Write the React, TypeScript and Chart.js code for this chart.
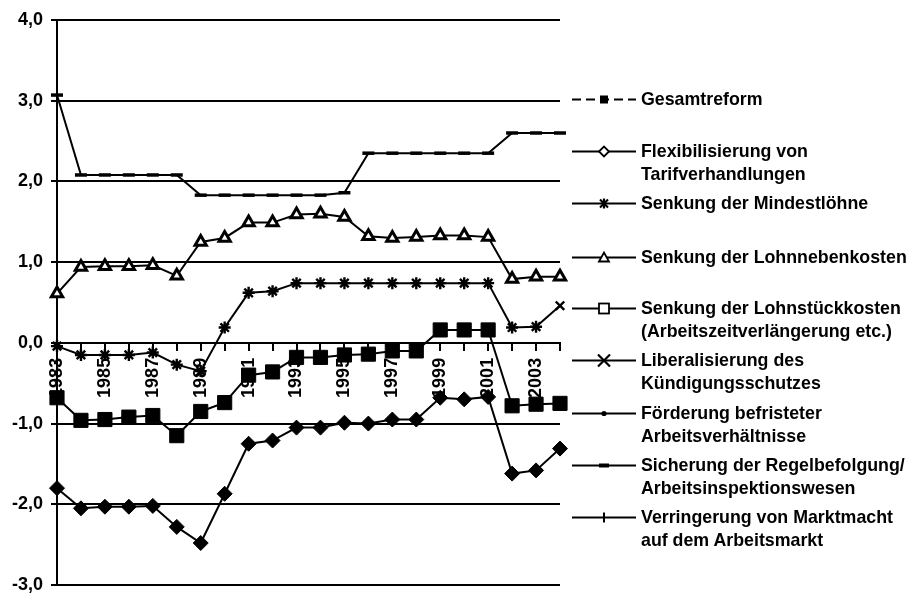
import React, { useEffect, useRef } from 'react';
import { Chart, registerables } from 'chart.js';

Chart.register(...registerables);

const years = [
  '1983', '1984', '1985', '1986', '1987', '1988', '1989', '1990', '1991', '1992', '1993',
  '1994', '1995', '1996', '1997', '1998', '1999', '2000', '2001', '2002', '2003', '2004',
];

const yMin = -3;
const yMax = 4;
const yStep = 1;

// top line with short dash markers
const regelbefolgungValues = [
  3.07, 2.08, 2.08, 2.08, 2.08, 2.08, 1.83, 1.83, 1.83, 1.83, 1.83,
  1.83, 1.86, 2.35, 2.35, 2.35, 2.35, 2.35, 2.35, 2.6, 2.6, 2.6,
];
// triangles
const lohnnebenkostenValues = [
  0.61, 0.94, 0.95, 0.95, 0.96, 0.83, 1.25, 1.3, 1.49, 1.49, 1.59,
  1.6, 1.56, 1.32, 1.3, 1.31, 1.33, 1.33, 1.31, 0.79, 0.82, 0.82,
];
// asterisks
const mindestloehneValues = [
  -0.04, -0.15, -0.15, -0.15, -0.12, -0.27, -0.35, 0.19, 0.62, 0.64, 0.74,
  0.74, 0.74, 0.74, 0.74, 0.74, 0.74, 0.74, 0.74, 0.19, 0.2, 0.46,
];
// big filled squares
const gesamtreformValues = [
  -0.68, -0.96, -0.95, -0.92, -0.9, -1.15, -0.85, -0.74, -0.4, -0.36, -0.18,
  -0.18, -0.15, -0.14, -0.1, -0.1, 0.16, 0.16, 0.16, -0.78, -0.76, -0.75,
];
// filled diamonds
const flexibilisierungValues = [
  -1.8, -2.05, -2.03, -2.03, -2.02, -2.28, -2.48, -1.87, -1.25, -1.21, -1.05,
  -1.05, -0.99, -1.0, -0.95, -0.95, -0.68, -0.7, -0.67, -1.62, -1.58, -1.31,
];

const legendLabels: string[][] = [
  ['Gesamtreform'],
  ['Flexibilisierung von', 'Tarifverhandlungen'],
  ['Senkung der Mindestlöhne'],
  ['Senkung der Lohnnebenkosten'],
  ['Senkung der Lohnstückkosten', '(Arbeitszeitverlängerung etc.)'],
  ['Liberalisierung des', 'Kündigungsschutzes'],
  ['Förderung befristeter', 'Arbeitsverhältnisse'],
  ['Sicherung der Regelbefolgung/', 'Arbeitsinspektionswesen'],
  ['Verringerung von Marktmacht', 'auf dem Arbeitsmarkt'],
];
const legendSymbols = ['dashSquare', 'diamond', 'star', 'triangle', 'square', 'cross', 'dot', 'dash', 'plus'];

const FONT = '"Liberation Sans", Arial, Helvetica, sans-serif';

function Symbol({ kind }: { kind: string }) {
  const cx = 32;
  const cy = 11.5;
  const line =
    kind === 'dashSquare' ? (
      <line x1={0} y1={cy} x2={64} y2={cy} stroke="#000" strokeWidth={2} strokeDasharray="9 5" />
    ) : (
      <line x1={0} y1={cy} x2={64} y2={cy} stroke="#000" strokeWidth={1.8} />
    );
  let marker: React.ReactNode = null;
  switch (kind) {
    case 'dashSquare':
      marker = <rect x={cx - 4} y={cy - 4} width={8} height={8} fill="#000" />;
      break;
    case 'diamond':
      marker = (
        <polygon
          points={`${cx - 5},${cy} ${cx},${cy - 5} ${cx + 5},${cy} ${cx},${cy + 5}`}
          fill="#fff"
          stroke="#000"
          strokeWidth={1.8}
        />
      );
      break;
    case 'star':
      marker = (
        <g stroke="#000" strokeWidth={2.2}>
          <line x1={cx - 4} y1={cy - 4} x2={cx + 4} y2={cy + 4} />
          <line x1={cx - 4} y1={cy + 4} x2={cx + 4} y2={cy - 4} />
          <line x1={cx} y1={cy - 5} x2={cx} y2={cy + 5} />
        </g>
      );
      break;
    case 'triangle':
      marker = (
        <polygon
          points={`${cx - 5},${cy + 4} ${cx},${cy - 5} ${cx + 5},${cy + 4}`}
          fill="#fff"
          stroke="#000"
          strokeWidth={1.8}
        />
      );
      break;
    case 'square':
      marker = <rect x={cx - 5} y={cy - 5} width={10} height={10} fill="#fff" stroke="#000" strokeWidth={1.8} />;
      break;
    case 'cross':
      marker = (
        <g stroke="#000" strokeWidth={2.2}>
          <line x1={cx - 6} y1={cy - 6} x2={cx + 6} y2={cy + 6} />
          <line x1={cx - 6} y1={cy + 6} x2={cx + 6} y2={cy - 6} />
        </g>
      );
      break;
    case 'dot':
      marker = <circle cx={cx} cy={cy} r={2.6} fill="#000" />;
      break;
    case 'dash':
      marker = <rect x={cx - 5} y={cy - 2} width={10} height={4} fill="#000" />;
      break;
    case 'plus':
      marker = <line x1={cx} y1={cy - 5} x2={cx} y2={cy + 5} stroke="#000" strokeWidth={2} />;
      break;
  }
  return (
    <svg width={64} height={23} style={{ display: 'block', flex: '0 0 auto' }}>
      {line}
      {marker}
    </svg>
  );
}

const legendTops = [99, 151, 203, 257, 308, 360, 413, 465, 517];

export default function App() {
  const canvasRef = useRef<HTMLCanvasElement | null>(null);

  useEffect(() => {
    if (!canvasRef.current) return;
    const black = '#000';
    const chart = new Chart(canvasRef.current, {
      type: 'line',
      data: {
        labels: years,
        datasets: [
          {
            label: 'Gesamtreform',
            data: gesamtreformValues,
            borderColor: black,
            borderWidth: 2,
            pointStyle: 'rect',
            pointRadius: 10,
            pointBackgroundColor: black,
            pointBorderColor: black,
            pointBorderWidth: 1,
            clip: false,
          },
          {
            label: 'Flexibilisierung von Tarifverhandlungen',
            data: flexibilisierungValues,
            borderColor: black,
            borderWidth: 2,
            pointStyle: 'rectRot',
            pointRadius: 7.5,
            pointBackgroundColor: black,
            pointBorderColor: black,
            pointBorderWidth: 1,
            clip: false,
          },
          {
            label: 'Senkung der Mindestlöhne',
            data: mindestloehneValues,
            borderColor: black,
            borderWidth: 2,
            pointStyle: mindestloehneValues.map((_, i) => (i === mindestloehneValues.length - 1 ? 'crossRot' : 'star')),
            pointRadius: 6,
            pointBackgroundColor: black,
            pointBorderColor: black,
            pointBorderWidth: 2.4,
            clip: false,
          },
          {
            label: 'Senkung der Lohnnebenkosten',
            data: lohnnebenkostenValues,
            borderColor: black,
            borderWidth: 2,
            pointStyle: 'triangle',
            pointRadius: 6.5,
            pointBackgroundColor: '#fff',
            pointBorderColor: black,
            pointBorderWidth: 3,
            clip: false,
          },
          {
            label: 'Sicherung der Regelbefolgung/Arbeitsinspektionswesen',
            data: regelbefolgungValues,
            borderColor: black,
            borderWidth: 2,
            pointStyle: 'line',
            pointRadius: 6,
            pointBorderColor: black,
            pointBorderWidth: 3.5,
            clip: false,
          },
        ],
      },
      options: {
        animation: false,
        responsive: true,
        maintainAspectRatio: false,
        layout: { padding: { left: 0, right: 354, top: 20, bottom: 7 } },
        plugins: {
          legend: { display: false },
          tooltip: { enabled: false },
        },
        elements: { line: { tension: 0 } },
        scales: {
          x: {
            type: 'category',
            position: { y: 0 } as any,
            offset: false,
            grid: {
              drawOnChartArea: false,
              drawTicks: true,
              tickLength: 7,
              color: black,
              lineWidth: 2,
            },
            border: { display: true, color: black, width: 2 },
            ticks: {
              autoSkip: false,
              maxRotation: 90,
              minRotation: 90,
              padding: 8,
              color: black,
              font: { family: FONT, size: 18, weight: 'bold' },
              callback: (_v: any, i: number) => (i % 2 === 0 ? years[i] : ''),
            },
          },
          y: {
            min: yMin,
            max: yMax,
            grid: {
              color: black,
              lineWidth: 2,
              tickLength: 6,
              drawTicks: true,
            },
            border: { display: true, color: black, width: 2 },
            ticks: {
              stepSize: yStep,
              padding: 8,
              color: black,
              font: { family: FONT, size: 18, weight: 'bold' },
              callback: (v: any) => Number(v).toFixed(1).replace('.', ','),
            },
            afterFit: (s: any) => {
              s.width = 57;
              s.paddingTop = 0;
              s.paddingBottom = 0;
            },
          },
        },
      },
    });
    return () => chart.destroy();
  }, []);

  return (
    <div style={{ position: 'absolute', left: 0, top: 0, width: 914, height: 596, background: '#fff' }}>
      <canvas ref={canvasRef} />
      {legendLabels.map((lines, i) => (
        <div
          key={i}
          style={{
            position: 'absolute',
            left: 572,
            top: legendTops[i] - 11.5,
            display: 'flex',
            alignItems: 'flex-start',
            fontFamily: FONT,
            fontWeight: 'bold',
            fontSize: 17.8,
            lineHeight: '23px',
            color: '#000',
            whiteSpace: 'nowrap',
          }}
        >
          <Symbol kind={legendSymbols[i]} />
          <div style={{ marginLeft: 5 }}>
            {lines.map((t, j) => (
              <div key={j}>{t}</div>
            ))}
          </div>
        </div>
      ))}
    </div>
  );
}
